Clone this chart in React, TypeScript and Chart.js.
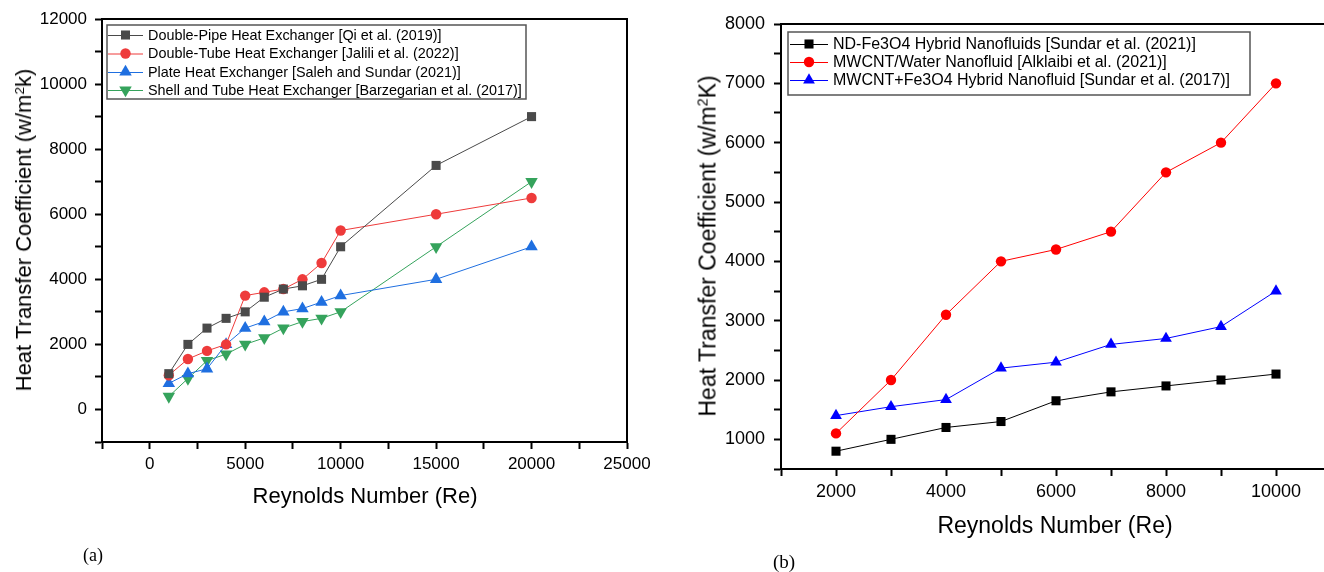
import React, { useEffect, useRef } from "react";
import { Chart, registerables } from "chart.js";

Chart.register(...registerables);

// ---------- Data: chart (a) ----------
const leftRe = [1000, 2000, 3000, 4000, 5000, 6000, 7000, 8000, 9000, 10000, 15000, 20000];
const doublePipe = [1100, 2000, 2500, 2800, 3000, 3450, 3700, 3800, 4000, 5000, 7500, 9000];
const doubleTube = [1050, 1550, 1800, 2000, 3500, 3600, 3700, 4000, 4500, 5500, 6000, 6500];
const plateHX = [800, 1100, 1250, 2000, 2500, 2700, 3000, 3100, 3300, 3500, 4000, 5000];
const shellTube = [400, 950, 1500, 1700, 2000, 2200, 2500, 2700, 2800, 3000, 5000, 7000];
const leftLabels = [
  "Double-Pipe Heat Exchanger [Qi et al. (2019)]",
  "Double-Tube Heat Exchanger [Jalili et al. (2022)]",
  "Plate Heat Exchanger [Saleh and Sundar (2021)]",
  "Shell and Tube Heat Exchanger [Barzegarian et al. (2017)]",
];

// ---------- Data: chart (b) ----------
const rightRe = [2000, 3000, 4000, 5000, 6000, 7000, 8000, 9000, 10000];
const ndFe3O4 = [800, 1000, 1200, 1300, 1650, 1800, 1900, 2000, 2100];
const mwcntWater = [1100, 2000, 3100, 4000, 4200, 4500, 5500, 6000, 7000];
const mwcntFe3O4 = [1400, 1550, 1670, 2200, 2300, 2600, 2700, 2900, 3500];
const rightLabels = [
  "ND-Fe3O4 Hybrid Nanofluids [Sundar et al. (2021)]",
  "MWCNT/Water Nanofluid [Alklaibi et al. (2021)]",
  "MWCNT+Fe3O4 Hybrid Nanofluid [Sundar et al. (2017)]",
];

const FONT = "'Liberation Sans', Arial, sans-serif";

function pts(xs: number[], ys: number[]) {
  return xs.map((x, i) => ({ x, y: ys[i] }));
}

function drawMarker(ctx: CanvasRenderingContext2D, style: string, rot: number, x: number, y: number, r: number, color: string) {
  ctx.save();
  ctx.fillStyle = color;
  ctx.beginPath();
  if (style === "rect") {
    const s = Math.SQRT1_2 * r;
    ctx.rect(x - s, y - s, 2 * s, 2 * s);
  } else if (style === "circle") {
    ctx.arc(x, y, r, 0, Math.PI * 2);
  } else {
    let a = (rot * Math.PI) / 180;
    ctx.moveTo(x + Math.sin(a) * r, y - Math.cos(a) * r);
    a += (2 * Math.PI) / 3;
    ctx.lineTo(x + Math.sin(a) * r, y - Math.cos(a) * r);
    a += (2 * Math.PI) / 3;
    ctx.lineTo(x + Math.sin(a) * r, y - Math.cos(a) * r);
    ctx.closePath();
  }
  ctx.fill();
  ctx.restore();
}

type LegendCfg = {
  box: [number, number, number, number];
  rows: number[];
  lineX: [number, number];
  textX: number;
  font: string;
  labels: string[];
};

function legendPlugin(cfg: LegendCfg) {
  return {
    id: "boxLegend",
    afterDraw(chart: any) {
      const ctx: CanvasRenderingContext2D = chart.ctx;
      ctx.save();
      ctx.fillStyle = "#fff";
      const [bx, by, bw, bh] = cfg.box;
      ctx.fillRect(bx, by, bw, bh);
      ctx.strokeStyle = "#555";
      ctx.lineWidth = 1.5;
      ctx.strokeRect(bx, by, bw, bh);
      chart.data.datasets.forEach((ds: any, i: number) => {
        const y = cfg.rows[i];
        ctx.strokeStyle = ds.borderColor;
        ctx.lineWidth = 1;
        ctx.beginPath();
        ctx.moveTo(cfg.lineX[0], y + 0.5);
        ctx.lineTo(cfg.lineX[1], y + 0.5);
        ctx.stroke();
        drawMarker(ctx, ds.pointStyle, ds.pointRotation || 0, (cfg.lineX[0] + cfg.lineX[1]) / 2, y, ds.pointRadius, ds.pointBackgroundColor);
        ctx.fillStyle = "#000";
        ctx.font = cfg.font;
        ctx.textBaseline = "middle";
        ctx.textAlign = "left";
        ctx.fillText(cfg.labels[i], cfg.textX, y + 1);
      });
      ctx.restore();
    },
  };
}

const framePlugin = {
  id: "frame",
  afterDraw(chart: any) {
    const { ctx, chartArea } = chart;
    ctx.save();
    ctx.strokeStyle = "#000";
    ctx.lineWidth = 2;
    ctx.beginPath();
    ctx.moveTo(chartArea.left, chartArea.top);
    ctx.lineTo(chartArea.right, chartArea.top);
    ctx.lineTo(chartArea.right, chartArea.bottom);
    ctx.stroke();
    ctx.restore();
  },
};

function ds(label: string, data: any[], color: string, style: string, r: number, rot = 0) {
  return {
    label,
    data,
    borderColor: color,
    backgroundColor: color,
    pointBackgroundColor: color,
    pointBorderColor: color,
    pointBorderWidth: 0,
    pointStyle: style,
    pointRotation: rot,
    pointRadius: r,
    borderWidth: 1,
    tension: 0,
    showLine: true,
  };
}

function axis(min: number, max: number, step: number, labelEvery: number, fontSize: number, pad: number, fit: (s: any) => void) {
  return {
    type: "linear" as const,
    min,
    max,
    border: { display: true, color: "#000", width: 2 },
    grid: { display: true, drawOnChartArea: false, drawTicks: true, tickLength: 7, tickWidth: 2, tickColor: "#000" },
    ticks: {
      stepSize: step,
      autoSkip: false,
      maxRotation: 0,
      padding: pad,
      color: "#000",
      font: { family: FONT, size: fontSize },
      callback: (v: any) => (Math.round(v) % labelEvery === 0 && v > min - 1 ? String(v) : ""),
    },
    afterFit: fit,
  };
}

export default function App() {
  const c1 = useRef<HTMLCanvasElement>(null);
  const c2 = useRef<HTMLCanvasElement>(null);

  useEffect(() => {
    const leftChart = new Chart(c1.current!, {
      type: "scatter",
      data: {
        datasets: [
          ds(leftLabels[0], pts(leftRe, doublePipe), "#4a4a4a", "rect", 6.4),
          ds(leftLabels[1], pts(leftRe, doubleTube), "#ee3b3b", "circle", 5.2),
          ds(leftLabels[2], pts(leftRe, plateHX), "#1f6fe0", "triangle", 7.2),
          ds(leftLabels[3], pts(leftRe, shellTube), "#35a35c", "triangle", 7.2, 180),
        ] as any,
      },
      options: {
        responsive: false,
        animation: false,
        devicePixelRatio: 1,
        layout: { padding: { left: 0, right: 33, top: 19, bottom: 0 } },
        plugins: { legend: { display: false }, tooltip: { enabled: false } },
        scales: {
          x: axis(-2500, 25000, 2500, 5000, 17, 5, (s: any) => { s.height = 130; }) as any,
          y: axis(-1000, 12000, 1000, 2000, 17, 8, (s: any) => { s.width = 102; }) as any,
        },
      },
      plugins: [
        framePlugin,
        legendPlugin({
          box: [107, 25, 419, 74],
          rows: [35, 53.5, 72, 90],
          lineX: [108, 143],
          textX: 148,
          font: `14.4px ${FONT}`,
          labels: leftLabels,
        }),
      ],
    });

    const rightChart = new Chart(c2.current!, {
      type: "scatter",
      data: {
        datasets: [
          ds(rightLabels[0], pts(rightRe, ndFe3O4), "#000000", "rect", 6.4),
          ds(rightLabels[1], pts(rightRe, mwcntWater), "#ff0000", "circle", 5.2),
          ds(rightLabels[2], pts(rightRe, mwcntFe3O4), "#0000ff", "triangle", 6.8),
        ] as any,
      },
      options: {
        responsive: false,
        animation: false,
        devicePixelRatio: 1,
        layout: { padding: { left: 0, right: 29, top: 24, bottom: 0 } },
        plugins: { legend: { display: false }, tooltip: { enabled: false } },
        scales: {
          x: axis(1000, 11000, 1000, 2000, 18, 5, (s: any) => { s.height = 103; }) as any,
          y: axis(500, 8000, 500, 1000, 18, 9, (s: any) => { s.width = 121; }) as any,
        },
      },
      plugins: [
        framePlugin,
        legendPlugin({
          box: [128, 32, 462, 63],
          rows: [44, 62, 80],
          lineX: [130, 168],
          textX: 173,
          font: `16px ${FONT}`,
          labels: rightLabels,
        }),
      ],
    });

    return () => {
      leftChart.destroy();
      rightChart.destroy();
    };
  }, []);

  const titleBase: React.CSSProperties = {
    position: "absolute",
    whiteSpace: "nowrap",
    fontFamily: FONT,
    color: "#000",
    lineHeight: 1,
  };
  const sup: React.CSSProperties = { fontSize: "0.62em", verticalAlign: "0.55em", lineHeight: 0 };

  return (
    <div style={{ position: "fixed", left: 0, top: 0, width: 1324, height: 572, overflow: "hidden", background: "#fff" }}>
      <canvas ref={c1} width={660} height={572} style={{ position: "absolute", left: 0, top: 0, width: 660, height: 572 }} />
      <canvas ref={c2} width={700} height={572} style={{ position: "absolute", left: 660, top: 0, width: 700, height: 572 }} />

      <div style={{ ...titleBase, left: 24, top: 230, fontSize: 22, transform: "translate(-50%, -50%) rotate(-90deg)" }}>
        Heat Transfer Coefficient (w/m<span style={sup}>2</span>k)
      </div>
      <div style={{ ...titleBase, left: 365, top: 496, fontSize: 22, transform: "translate(-50%, -50%)" }}>
        Reynolds Number (Re)
      </div>
      <div style={{ ...titleBase, left: 708, top: 246, fontSize: 23, transform: "translate(-50%, -50%) rotate(-90deg)" }}>
        Heat Transfer Coefficient (w/m<span style={sup}>2</span>K)
      </div>
      <div style={{ ...titleBase, left: 1055, top: 525, fontSize: 23, transform: "translate(-50%, -50%)" }}>
        Reynolds Number (Re)
      </div>
      <div style={{ position: "absolute", left: 93, top: 555, transform: "translate(-50%, -50%)", fontFamily: "'Liberation Serif', 'Times New Roman', serif", fontSize: 18, lineHeight: 1 }}>
        (a)
      </div>
      <div style={{ position: "absolute", left: 784, top: 561, transform: "translate(-50%, -50%)", fontFamily: "'Liberation Serif', 'Times New Roman', serif", fontSize: 19, lineHeight: 1 }}>
        (b)
      </div>
    </div>
  );
}
